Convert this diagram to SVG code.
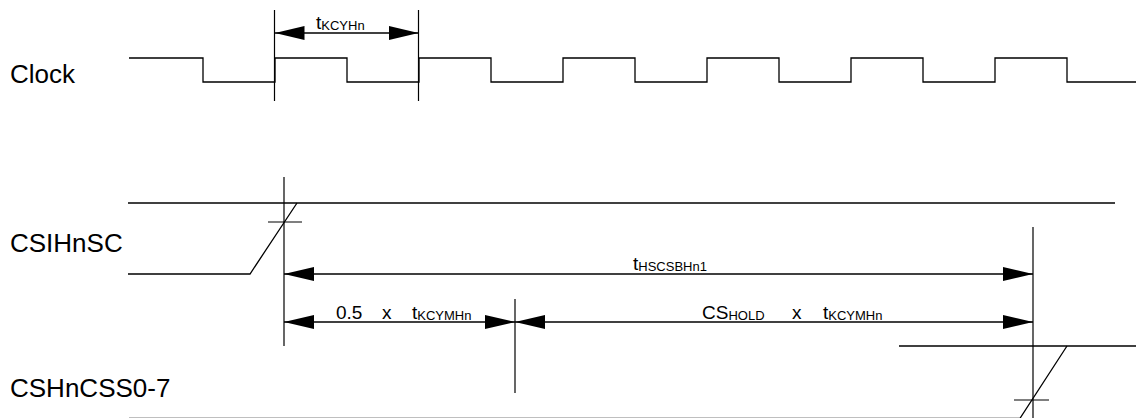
<svg xmlns="http://www.w3.org/2000/svg" width="1136" height="418" viewBox="0 0 1136 418">
<style>
.sig{fill:none;stroke:#000;stroke-width:1.3}
.ref{fill:none;stroke:#000;stroke-width:1.2}
.dim{fill:none;stroke:#000;stroke-width:1.3;marker-start:url(#ah);marker-end:url(#ah)}
.lbl{font-family:"Liberation Sans",Arial,sans-serif;font-size:26px;fill:#000}
.t{font-family:"Liberation Sans",Arial,sans-serif;font-size:19px;fill:#000}
.s{font-size:13px}
</style>
<defs>
<marker id="ah" markerUnits="userSpaceOnUse" markerWidth="30" markerHeight="14" viewBox="0 0 30 14" refX="30" refY="7" orient="auto-start-reverse">
<path d="M0,0 L30,7 L0,14 Z" fill="#000"/>
</marker>
</defs>
<rect width="1136" height="418" fill="#fff"/>
<g id="clock">
<text class="lbl" x="10" y="83">Clock</text>
<polyline class="sig" points="129,58 203,58 203,82 275,82 275,58 347,58 347,82 419,82 419,58 491,58 491,82 563,82 563,58 635,58 635,82 707,82 707,58 779,58 779,82 851,82 851,58 923,58 923,82 995,82 995,58 1067,58 1067,82 1136,82"/>
</g>
<g id="csihnsc">
<text class="lbl" x="10" y="252">CSIHnSC</text>
<line class="sig" x1="128" y1="203" x2="1115" y2="203"/>
<polyline class="sig" points="128,274 250,274 297,203"/>
<line class="ref" x1="268" y1="222" x2="302" y2="222"/>
</g>
<g id="cshncss">
<text class="lbl" x="10" y="397">CSHnCSS0-7</text>
<line class="sig" x1="899" y1="346" x2="1136" y2="346"/>
<polyline class="sig" points="129,418.3 1020,418.3 1067,346"/>
<line class="ref" x1="1014" y1="400" x2="1049" y2="400"/>
</g>
<g id="refs">
<line class="ref" x1="274.5" y1="10" x2="274.5" y2="101"/>
<line class="ref" x1="418.5" y1="10" x2="418.5" y2="101"/>
<line class="ref" x1="284" y1="177" x2="284" y2="346"/>
<line class="ref" x1="515" y1="299" x2="515" y2="393"/>
<line class="ref" x1="1033" y1="227" x2="1033" y2="418"/>
</g>
<g id="connectors">
<line class="dim" x1="274.5" y1="33" x2="418.5" y2="33"/>
<line class="dim" x1="284" y1="274" x2="1033" y2="274"/>
<line class="dim" x1="284" y1="322" x2="515" y2="322"/>
<line class="dim" x1="515" y1="322" x2="1033" y2="322"/>
</g>
<g id="labels">
<text class="t" x="316" y="29">t<tspan class="s" dy="1">KCYHn</tspan></text>
<text class="t" x="633" y="270">t<tspan class="s" dy="1">HSCSBHn1</tspan></text>
<text class="t" x="336" y="319">0.5</text>
<text class="t" x="382" y="319">x</text>
<text class="t" x="412" y="319">t<tspan class="s" dy="1">KCYMHn</tspan></text>
<text class="t" x="702" y="319">CS<tspan class="s" dy="1">HOLD</tspan></text>
<text class="t" x="792" y="319">x</text>
<text class="t" x="823" y="319">t<tspan class="s" dy="1">KCYMHn</tspan></text>
</g>
</svg>
